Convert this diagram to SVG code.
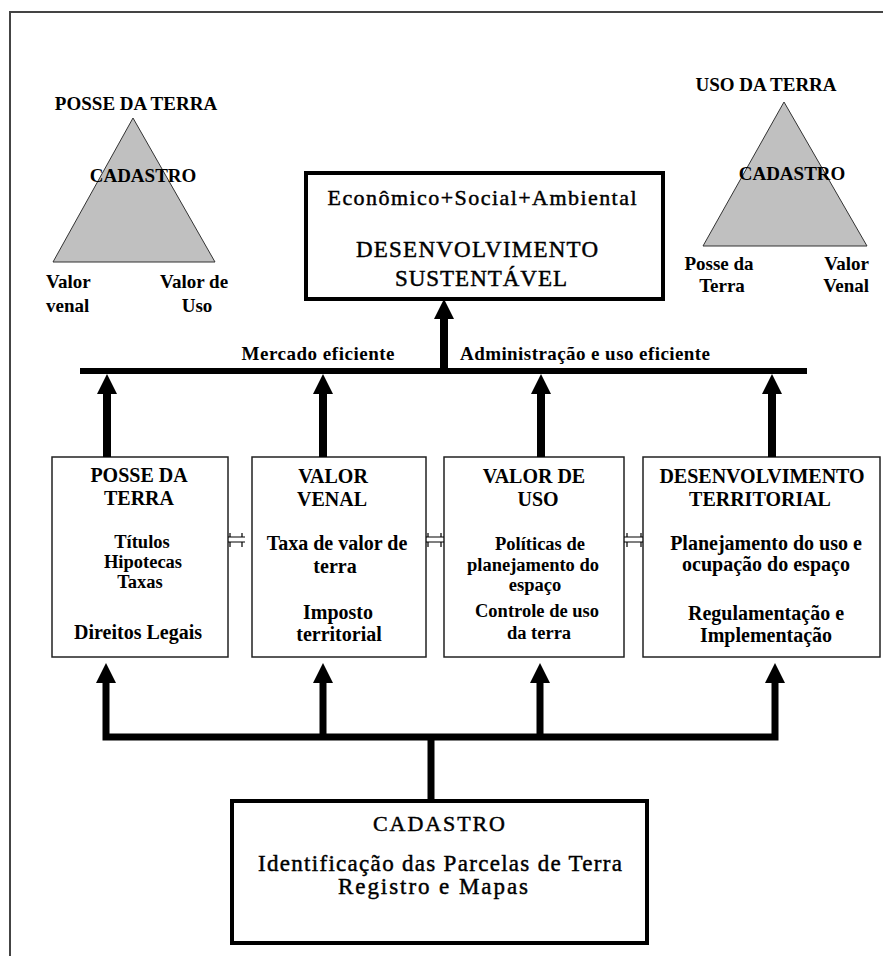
<svg xmlns="http://www.w3.org/2000/svg" width="883" height="956" viewBox="0 0 883 956">
  <style>
    text { font-family: "Liberation Serif", "Times New Roman", serif; fill: #000; text-anchor: middle; }
    .b { font-weight: bold; font-size: 20px; }
    .s { font-weight: bold; font-size: 18.5px; }
    .t { font-weight: bold; font-size: 19px; }
    .l { text-anchor: start; }
    .r { text-anchor: end; }
    .big { font-size: 22px; stroke: #000; stroke-width: 0.45; }
    .tri { fill: #c0c0c0; stroke: #333; stroke-width: 1; }
    .box { fill: #fff; stroke: #222; stroke-width: 1.5; }
    .heavy { fill: #fff; stroke: #000; stroke-width: 4; }
    .bus { stroke: #000; fill: none; }
    .head { fill: #000; }
    .swap { stroke: #000; stroke-width: 1.2; fill: none; }
  </style>
  <defs>
    <polygon id="ah" class="head" points="0,0 -10,20 10,20"/>
  </defs>

  <rect width="883" height="956" fill="#fff"/>
  <!-- page frame (runs off right and bottom) -->
  <path d="M10 956 V12 H883" fill="none" stroke="#444" stroke-width="2"/>

  <!-- left triangle: land tenure -->
  <g id="tri-posse">
    <polygon class="tri" points="133,118 53,262 215,262"/>
    <text class="t" x="136" y="110">POSSE DA TERRA</text>
    <text class="t" x="143" y="182">CADASTRO</text>
    <text class="t l" x="46" y="288">Valor</text>
    <text class="t l" x="46" y="312">venal</text>
    <text class="t l" x="160" y="288">Valor de</text>
    <text class="t" x="197" y="312">Uso</text>
  </g>

  <!-- right triangle: land use -->
  <g id="tri-uso">
    <polygon class="tri" points="784,102 703,246 867,246"/>
    <text class="t" x="766" y="91">USO DA TERRA</text>
    <text class="t" x="792" y="180">CADASTRO</text>
    <text class="t" x="719" y="270">Posse da</text>
    <text class="t" x="722" y="292">Terra</text>
    <text class="t r" x="869" y="270">Valor</text>
    <text class="t r" x="869" y="292">Venal</text>
  </g>

  <!-- goal box -->
  <g id="sustentavel">
    <rect class="heavy" x="306" y="173" width="357" height="126"/>
    <text class="big" x="482" y="205" textLength="309" lengthAdjust="spacing">Econômico+Social+Ambiental</text>
    <text class="big" x="477" y="257" style="font-size:23px" textLength="242" lengthAdjust="spacing">DESENVOLVIMENTO</text>
    <text class="big" x="481" y="286" style="font-size:23px" textLength="172" lengthAdjust="spacing">SUSTENTÁVEL</text>
  </g>

  <!-- four pillars -->
  <g id="posse">
    <rect class="box" x="52" y="457" width="176" height="200"/>
    <text class="b" x="139" y="482">POSSE DA</text>
    <text class="b" x="139" y="505">TERRA</text>
    <text class="s" x="142" y="548">Títulos</text>
    <text class="s" x="143" y="568">Hipotecas</text>
    <text class="s" x="140" y="588">Taxas</text>
    <text class="b" x="138" y="639">Direitos Legais</text>
  </g>
  <g id="venal">
    <rect class="box" x="252" y="457" width="174" height="200"/>
    <text class="b" x="333" y="483">VALOR</text>
    <text class="b" x="332" y="506">VENAL</text>
    <text class="b" x="337" y="550">Taxa de valor de</text>
    <text class="b" x="335" y="573">terra</text>
    <text class="b" x="338" y="619">Imposto</text>
    <text class="b" x="339" y="641">territorial</text>
  </g>
  <g id="uso">
    <rect class="box" x="444" y="457" width="180" height="200"/>
    <text class="b" x="534" y="483">VALOR DE</text>
    <text class="b" x="538" y="506">USO</text>
    <text class="s" x="540" y="550">Políticas de</text>
    <text class="s" x="533" y="571">planejamento do</text>
    <text class="s" x="535" y="591">espaço</text>
    <text class="s" x="537" y="617">Controle de uso</text>
    <text class="s" x="539" y="639">da terra</text>
  </g>
  <g id="territorial">
    <rect class="box" x="643" y="457" width="237" height="200"/>
    <text class="b" x="762" y="483">DESENVOLVIMENTO</text>
    <text class="b" x="760" y="506">TERRITORIAL</text>
    <text class="b" x="766" y="550">Planejamento do uso e</text>
    <text class="b" x="766" y="571">ocupação do espaço</text>
    <text class="b" x="766" y="620">Regulamentação e</text>
    <text class="b" x="766" y="642">Implementação</text>
  </g>

  <!-- base box -->
  <g id="cadastro">
    <rect class="heavy" x="232" y="801" width="415" height="142"/>
    <text class="big" x="439" y="831" textLength="132" lengthAdjust="spacing">CADASTRO</text>
    <text class="big" x="440" y="871" style="font-size:23px" textLength="364" lengthAdjust="spacing">Identificação das Parcelas de Terra</text>
    <text class="big" x="433" y="894" style="font-size:23px" textLength="190" lengthAdjust="spacing">Registro e Mapas</text>
  </g>

  <!-- connectors -->
  <g id="connectors">
    <!-- upper bus and its labels -->
    <line class="bus" x1="80" y1="371" x2="807" y2="371" stroke-width="6"/>
    <text class="t" x="318" y="360" textLength="153" lengthAdjust="spacing">Mercado eficiente</text>
    <text class="t l" x="460" y="360" textLength="250" lengthAdjust="spacing">Administração e uso eficiente</text>

    <!-- bus to goal -->
    <line class="bus" x1="444" y1="371" x2="444" y2="316" stroke-width="8"/>
    <use href="#ah" x="444" y="299"/>

    <!-- pillars up to bus -->
    <g stroke-width="8">
      <line class="bus" x1="107" y1="457" x2="107" y2="390"/>
      <line class="bus" x1="323" y1="457" x2="323" y2="390"/>
      <line class="bus" x1="541" y1="457" x2="541" y2="390"/>
      <line class="bus" x1="772" y1="457" x2="772" y2="390"/>
    </g>
    <use href="#ah" x="107" y="374"/>
    <use href="#ah" x="323" y="374"/>
    <use href="#ah" x="541" y="374"/>
    <use href="#ah" x="772" y="374"/>

    <!-- lower bus from cadastro -->
    <line class="bus" x1="431" y1="801" x2="431" y2="737" stroke-width="7"/>
    <path class="bus" d="M106 683 V737 H775 V683 M323 737 V683 M540 737 V683" stroke-width="7"/>
    <use href="#ah" x="106" y="663"/>
    <use href="#ah" x="323" y="663"/>
    <use href="#ah" x="540" y="663"/>
    <use href="#ah" x="775" y="663"/>

    <!-- exchange marks between pillars -->
    <path class="swap" d="M228 537 H245 M228 542 H245 M230 533 V537 M242 533 V537 M230 542 V547 M242 542 V547"/>
    <path class="swap" d="M426 537 H444 M426 542 H444 M428 533 V537 M441 533 V537 M428 542 V547 M441 542 V547"/>
    <path class="swap" d="M624 537 H643 M624 542 H643 M627 533 V537 M641 533 V537 M627 542 V547 M641 542 V547"/>
  </g>
</svg>
